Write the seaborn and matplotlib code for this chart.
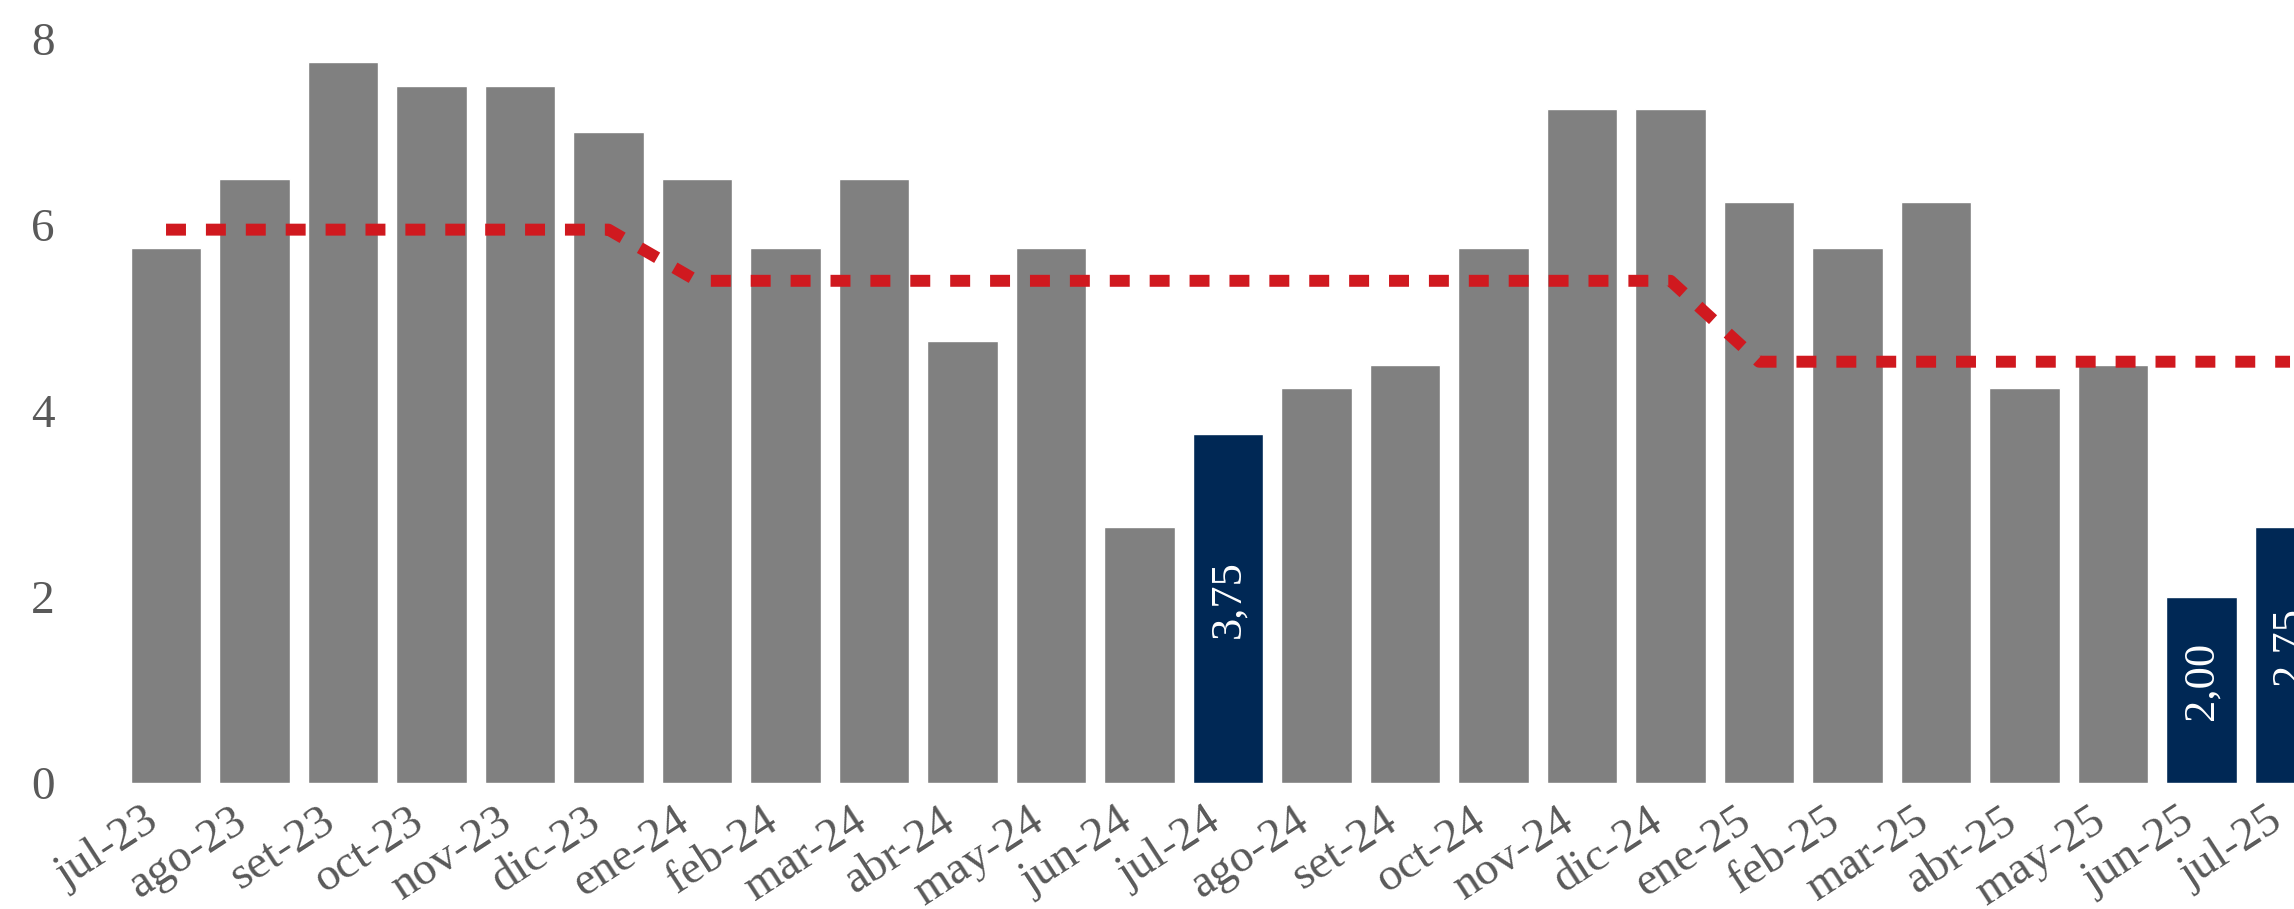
import numpy as np
import matplotlib
matplotlib.use("Agg")
import matplotlib.pyplot as plt
import seaborn as sns

sns.set_style("white")
plt.rcParams['font.family'] = ['Liberation Serif', 'DejaVu Serif']

# data
months = ['jul-23', 'ago-23', 'set-23', 'oct-23', 'nov-23', 'dic-23',
          'ene-24', 'feb-24', 'mar-24', 'abr-24', 'may-24', 'jun-24',
          'jul-24', 'ago-24', 'set-24', 'oct-24', 'nov-24', 'dic-24',
          'ene-25', 'feb-25', 'mar-25', 'abr-25', 'may-25', 'jun-25', 'jul-25']
values = [5.75, 6.5, 7.75, 7.5, 7.5, 7.0,
          6.5, 5.75, 6.5, 4.75, 5.75, 2.75,
          3.75, 4.25, 4.5, 5.75, 7.25, 7.25,
          6.25, 5.75, 6.25, 4.25, 4.5, 2.0, 2.75]
ref_line = [5.95, 5.95, 5.95, 5.95, 5.95, 5.95,
            5.4, 5.4, 5.4, 5.4, 5.4, 5.4,
            5.4, 5.4, 5.4, 5.4, 5.4, 5.4,
            4.53, 4.53, 4.53, 4.53, 4.53, 4.53, 4.53]
highlight = ['jul-24', 'jun-25', 'jul-25']

grey = '#808080'
navy = '#002855'
red = '#D0191F'
txt = '#595959'

colors = [navy if m in highlight else grey for m in months]

fig = plt.figure(figsize=(22.94, 9.09), dpi=100)
ax = fig.add_axes([70 / 2294, 126 / 909, 1 - 70 / 2294, 744 / 909])

sns.barplot(x=months, y=values, hue=months, palette=colors, legend=False,
            width=0.8, saturation=1, ax=ax)

# dashed red reference line across the bar centres
ax.plot(np.arange(len(months)), ref_line, color=red, lw=8.6,
        dashes=(1.67, 1.67), dash_capstyle='butt', zorder=3)

# value labels inside the highlighted bars
for i, (m, v) in enumerate(zip(months, values)):
    if m in highlight:
        ax.text(i, v / 2 + 0.1, f"{v:.2f}".replace('.', ','), rotation=90,
                ha='center', va='center', color='white', fontsize=32)

ax.set_ylim(0, 8)
ax.set_xlim(-1.085, 24.045)
ax.set_yticks([0, 2, 4, 6, 8])
ax.set_xlabel('')
ax.set_ylabel('')
sns.despine(left=True, bottom=True)

ax.tick_params(axis='y', length=0, pad=11, labelsize=34, labelcolor=txt)
ax.tick_params(axis='x', length=0, pad=12, labelsize=34, labelcolor=txt)
for lab in ax.get_xticklabels():
    lab.set_rotation(33)
    lab.set_ha('right')

fig.savefig('out.png', dpi=100)
